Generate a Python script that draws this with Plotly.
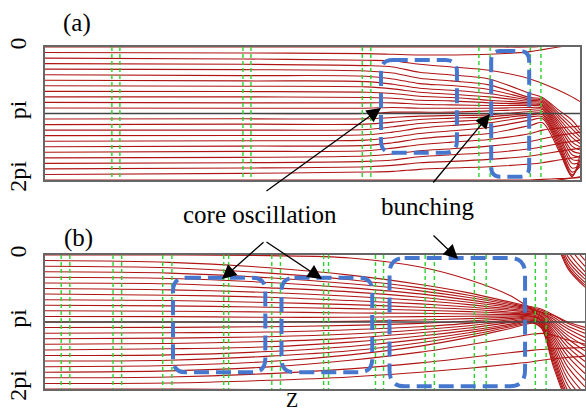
import plotly.graph_objects as go

W, H = 586, 412

# ---------------- data (phase in units of pi, z in arbitrary units) ----------------
z_a = [0, 3.7, 6.0, 6.5, 7.0, 7.6, 8.3, 9.07, 9.3, 9.6, 9.85, 10.0]
phase_a = [
    [0, 0, 0, 0, 0, 0, 0, 0, -0.01, -0.02, -0.03, -0.04],
    [0.083, 0.09, 0.10, 0.11, 0.12, 0.12, 0.11, 0.07, 0.04, 0.0, -0.03, -0.05],
    [0.167, 0.18, 0.20, 0.21, 0.26, 0.30, 0.35, 0.48, 0.55, 0.65, 0.75, 0.82],
    [0.25, 0.26, 0.28, 0.30, 0.38, 0.42, 0.48, 0.70, 0.76, 0.95, 1.10, 1.25],
    [0.333, 0.34, 0.36, 0.39, 0.47, 0.51, 0.57, 0.76, 0.78, 0.99, 1.17, 1.30],
    [0.417, 0.43, 0.44, 0.48, 0.55, 0.58, 0.64, 0.78, 0.80, 1.03, 1.23, 1.35],
    [0.5, 0.51, 0.52, 0.56, 0.62, 0.65, 0.70, 0.80, 0.82, 1.07, 1.30, 1.40],
    [0.583, 0.59, 0.60, 0.63, 0.68, 0.71, 0.75, 0.82, 0.84, 1.11, 1.36, 1.45],
    [0.667, 0.67, 0.68, 0.70, 0.74, 0.76, 0.80, 0.84, 0.86, 1.15, 1.43, 1.50],
    [0.75, 0.75, 0.76, 0.77, 0.80, 0.81, 0.84, 0.86, 0.88, 1.19, 1.49, 1.55],
    [0.833, 0.84, 0.84, 0.84, 0.86, 0.87, 0.88, 0.88, 0.90, 1.23, 1.56, 1.60],
    [0.917, 0.92, 0.92, 0.91, 0.92, 0.92, 0.92, 0.91, 0.92, 1.27, 1.62, 1.65],
    [1.0, 1.0, 1.0, 0.98, 0.98, 0.98, 0.96, 0.94, 0.94, 1.31, 1.69, 1.70],
    [1.083, 1.08, 1.08, 1.06, 1.04, 1.03, 1.02, 0.97, 0.97, 1.35, 1.75, 1.74],
    [1.167, 1.16, 1.16, 1.13, 1.09, 1.07, 1.05, 1.0, 1.0, 1.39, 1.82, 1.78],
    [1.25, 1.25, 1.24, 1.20, 1.15, 1.12, 1.09, 1.02, 1.02, 1.43, 1.88, 1.80],
    [1.333, 1.33, 1.32, 1.28, 1.22, 1.18, 1.14, 1.05, 1.05, 1.47, 1.92, 1.76],
    [1.417, 1.41, 1.40, 1.36, 1.30, 1.26, 1.21, 1.10, 1.08, 1.51, 1.94, 1.70],
    [1.5, 1.49, 1.48, 1.44, 1.38, 1.34, 1.30, 1.18, 1.14, 1.55, 1.95, 1.62],
    [1.583, 1.57, 1.56, 1.52, 1.47, 1.43, 1.39, 1.30, 1.25, 1.22, 1.20, 1.19],
    [1.667, 1.66, 1.64, 1.61, 1.56, 1.53, 1.49, 1.42, 1.38, 1.33, 1.30, 1.28],
    [1.75, 1.74, 1.72, 1.70, 1.65, 1.62, 1.59, 1.53, 1.50, 1.45, 1.42, 1.40],
    [1.833, 1.82, 1.80, 1.78, 1.74, 1.72, 1.69, 1.64, 1.61, 1.57, 1.54, 1.52],
    [1.917, 1.90, 1.88, 1.87, 1.84, 1.82, 1.80, 1.76, 1.74, 1.70, 1.67, 1.65],
]

z_b = [0, 2.3, 4.15, 5.65, 6.95, 7.85, 8.6, 9.05, 9.2, 9.42, 9.68, 10.0]
phase_b = [
    [0, 0, 0.01, 0.045, 0.18, 0.37, 0.60, 0.82, 0.86, 0.90, 1.00, 1.08],
    [0.083, 0.11, 0.19, 0.30, 0.44, 0.565, 0.70, 0.78, 0.81, 0.90, 1.02, 1.12],
    [0.167, 0.19, 0.27, 0.37, 0.49, 0.60, 0.72, 0.795, 0.83, 0.93, 1.06, 1.17],
    [0.25, 0.27, 0.34, 0.43, 0.535, 0.635, 0.74, 0.81, 0.85, 0.96, 1.10, 1.23],
    [0.333, 0.35, 0.41, 0.49, 0.58, 0.67, 0.76, 0.82, 0.86, 0.99, 1.15, 1.29],
    [0.417, 0.43, 0.49, 0.55, 0.63, 0.705, 0.78, 0.83, 0.87, 1.02, 1.20, 1.36],
    [0.5, 0.52, 0.56, 0.615, 0.68, 0.74, 0.805, 0.845, 0.89, 1.05, 1.25, 1.43],
    [0.583, 0.60, 0.63, 0.68, 0.73, 0.775, 0.825, 0.86, 0.91, 1.08, 1.31, 1.51],
    [0.667, 0.68, 0.71, 0.74, 0.78, 0.81, 0.85, 0.87, 0.92, 1.12, 1.37, 1.59],
    [0.75, 0.76, 0.78, 0.80, 0.825, 0.845, 0.87, 0.88, 0.93, 1.16, 1.44, 1.68],
    [0.833, 0.84, 0.85, 0.865, 0.87, 0.88, 0.89, 0.895, 0.95, 1.20, 1.51, 1.77],
    [0.917, 0.92, 0.93, 0.93, 0.92, 0.915, 0.91, 0.91, 0.97, 1.24, 1.59, 1.87],
    [1.0, 1.0, 1.0, 0.99, 0.97, 0.95, 0.93, 0.92, 0.98, 1.28, 1.67, 1.97],
    [1.083, 1.08, 1.07, 1.05, 1.02, 0.985, 0.95, 0.93, 0.99, 1.33, 1.76, 2.08],
    [1.167, 1.16, 1.15, 1.115, 1.07, 1.02, 0.97, 0.945, 1.01, 1.38, 1.85, 2.17],
    [1.25, 1.24, 1.22, 1.18, 1.115, 1.055, 0.99, 0.96, 1.03, 1.43, 1.94, 2.25],
    [1.333, 1.32, 1.29, 1.24, 1.16, 1.09, 1.01, 0.97, 1.04, 1.48, 2.02, 2.31],
    [1.417, 1.40, 1.37, 1.30, 1.21, 1.125, 1.035, 0.98, 1.05, 1.53, 2.08, 2.36],
    [1.5, 1.49, 1.44, 1.365, 1.26, 1.16, 1.055, 0.995, 1.07, 1.58, 2.13, 2.41],
    [1.583, 1.57, 1.51, 1.43, 1.31, 1.195, 1.075, 1.01, 1.09, 1.63, 2.17, 2.45],
    [1.667, 1.65, 1.59, 1.49, 1.36, 1.23, 1.10, 1.02, 1.10, 1.68, 2.20, 2.48],
    [1.75, 1.73, 1.67, 1.57, 1.45, 1.34, 1.24, 1.18, 1.17, 1.20, 1.27, 1.33],
    [1.833, 1.82, 1.77, 1.70, 1.61, 1.53, 1.46, 1.42, 1.41, 1.40, 1.39, 1.38],
    [1.917, 1.91, 1.87, 1.82, 1.75, 1.69, 1.63, 1.59, 1.57, 1.55, 1.53, 1.51],
]

# positions of the focusing elements (green dashed markers) along z
green_a = [1.25, 1.40, 3.70, 3.85, 5.93, 6.09, 8.11, 8.32, 9.07, 9.27]
green_b = [0.30, 0.46, 1.26, 1.42, 2.18, 2.35, 3.31, 3.40, 4.20, 4.36,
           5.16, 5.25, 6.12, 6.27, 7.04, 7.21, 7.95, 8.17, 9.08, 9.28]

tick_vals = [0, 1, 2]
tick_text = ["0", "pi", "2pi"]

# ---------------- figure ----------------
RED = "#b01515"
SERIF = "Liberation Serif, Times New Roman, serif"

fig = go.Figure()


def add_panel(zs, rows, xa, ya):
    for shift in (-2, 0, 2):
        xs, ys = [], []
        for row in rows:
            vals = [v + shift for v in row]
            if max(vals) < 0 or min(vals) > 2:
                continue
            xs += list(zs) + [None]
            ys += vals + [None]
        fig.add_trace(go.Scatter(
            x=xs, y=ys, mode="lines", xaxis=xa, yaxis=ya,
            line=dict(color=RED, width=1.1, shape="spline", smoothing=0.9),
            hoverinfo="skip", showlegend=False))


add_panel(z_a, phase_a, "x", "y")
add_panel(z_b, phase_b, "x2", "y2")


def px_x(v):
    return v / W


def px_y(v):
    return 1 - v / H


axis_common = dict(showgrid=False, zeroline=False, showline=True, mirror=True,
                   linecolor="#666666", linewidth=1.5, automargin=False)
ytick_font = dict(family=SERIF, size=24, color="black")

fig.update_layout(
    width=W, height=H, margin=dict(l=0, r=0, t=0, b=0),
    paper_bgcolor="white", plot_bgcolor="white", template="none",
    showlegend=False,
    xaxis=dict(domain=[45 / W, 580 / W], range=[0, 10], showticklabels=False,
               ticks="", anchor="y", **axis_common),
    yaxis=dict(domain=[px_y(180), px_y(47)], range=[2, 0], tickvals=tick_vals,
               ticktext=tick_text, tickangle=-90, ticks="", anchor="x",
               tickfont=ytick_font, ticklabelstandoff=8, **axis_common),
    xaxis2=dict(domain=[45 / W, 585 / W], range=[0, 10], showticklabels=False,
                ticks="", anchor="y2", **axis_common),
    yaxis2=dict(domain=[px_y(389), px_y(255)], range=[2, 0], tickvals=tick_vals,
                ticktext=tick_text, tickangle=-90, ticks="", anchor="x2",
                tickfont=ytick_font, ticklabelstandoff=8, **axis_common),
)

shapes = []
# pi reference lines
for xr, yr in (("x", "y"), ("x2", "y2")):
    shapes.append(dict(type="line", xref=xr, yref=yr, x0=0, x1=10, y0=1, y1=1,
                       line=dict(color="#444444", width=1.5), layer="above"))
# green dashed markers
for xr, yr, gl in (("x", "y", green_a), ("x2", "y2", green_b)):
    for g in gl:
        shapes.append(dict(type="line", xref=xr, yref=yr, x0=g, x1=g, y0=0, y1=2,
                           line=dict(color="#2ad42a", width=1.4, dash="4px,3px"),
                           layer="above"))


def rrect(x0, x1, y0, y1, rx, ry):
    return (f"M {x0 + rx},{y0} L {x1 - rx},{y0} Q {x1},{y0} {x1},{y0 + ry} "
            f"L {x1},{y1 - ry} Q {x1},{y1} {x1 - rx},{y1} L {x0 + rx},{y1} "
            f"Q {x0},{y1} {x0},{y1 - ry} L {x0},{y0 + ry} Q {x0},{y0} {x0 + rx},{y0} Z")


BLUE = "#4677cf"
boxes = [
    ("x", "y", 6.28, 7.70, 0.195, 1.59, 0.22, 0.18),
    ("x", "y", 8.34, 9.05, 0.06, 1.95, 0.17, 0.15),
    ("x2", "y2", 2.37, 4.08, 0.34, 1.75, 0.24, 0.20),
    ("x2", "y2", 4.38, 6.06, 0.34, 1.75, 0.24, 0.20),
    ("x2", "y2", 6.38, 8.89, 0.045, 1.96, 0.28, 0.24),
]
for xr, yr, x0, x1, y0, y1, rx, ry in boxes:
    shapes.append(dict(type="path", xref=xr, yref=yr,
                       path=rrect(x0, x1, y0, y1, rx, ry),
                       line=dict(color=BLUE, width=4, dash="15px,7px"),
                       layer="above"))
fig.update_layout(shapes=shapes)

annotations = []
# arrows: (tail_x, tail_y, tip_x, tip_y) in pixels
arrows = [
    (265, 192, 381, 108),
    (432, 184, 490, 114),
    (265, 241, 222, 279),
    (265, 241, 322, 279),
    (432, 234, 458, 259),
]
for tx, ty, hx, hy in arrows:
    annotations.append(dict(xref="paper", yref="paper", x=px_x(hx), y=px_y(hy),
                            ax=tx - hx, ay=ty - hy, text="", showarrow=True,
                            arrowhead=2, arrowsize=2.2, arrowwidth=1.3,
                            arrowcolor="black", standoff=0))

texts = [
    ("(a)", 77, 23, 25),
    ("(b)", 78, 238, 25),
    ("core oscillation", 260, 214, 25),
    ("bunching", 428, 206, 25),
]
for t, x, y, s in texts:
    annotations.append(dict(xref="paper", yref="paper", x=px_x(x), y=px_y(y),
                            text=t, showarrow=False, xanchor="center",
                            yanchor="middle",
                            font=dict(family=SERIF, size=s, color="black")))
annotations.append(dict(xref="paper", yref="paper", x=px_x(292), y=px_y(412),
                        text="Z", showarrow=False, xanchor="center",
                        yanchor="bottom", borderpad=0,
                        font=dict(family=SERIF, size=20, color="black")))
fig.update_layout(annotations=annotations)

fig.write_html("out.html", config={"displayModeBar": False},
               post_script="document.body.style.margin='0px';")
